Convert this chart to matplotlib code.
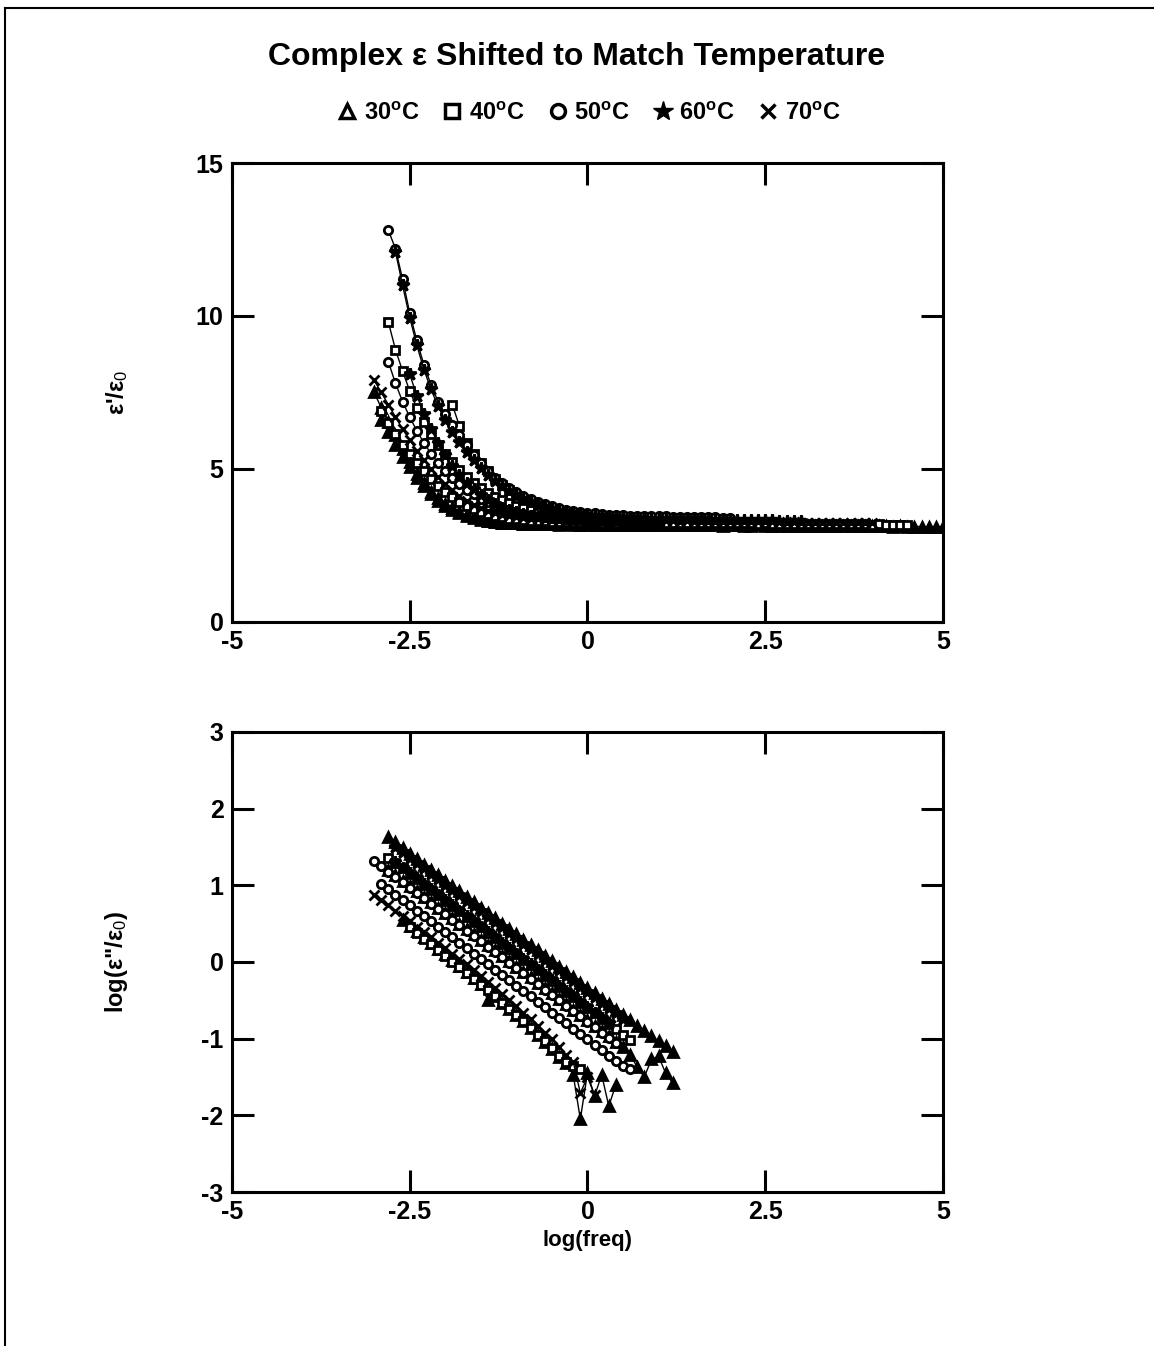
import matplotlib.pyplot as plt
from matplotlib.lines import Line2D

plt.rcParams['font.family'] = ['Liberation Sans', 'DejaVu Sans']
plt.rcParams['mathtext.fontset'] = 'custom'
plt.rcParams['mathtext.rm'] = 'Liberation Sans'
plt.rcParams['mathtext.it'] = 'Liberation Sans'
plt.rcParams['mathtext.bf'] = 'Liberation Sans:bold'
plt.rcParams['axes.unicode_minus'] = False

# shifted log(freq) grid, 0.1 decade steps
logf = [-3.0, -2.9, -2.8, -2.7, -2.6, -2.5, -2.4, -2.3, -2.2, -2.1,
        -2.0, -1.9, -1.8, -1.7, -1.6, -1.5, -1.4, -1.3, -1.2, -1.1,
        -1.0, -0.9, -0.8, -0.7, -0.6, -0.5, -0.4, -0.3, -0.2, -0.1,
        0.0, 0.1, 0.2, 0.3, 0.4, 0.5, 0.6, 0.7, 0.8, 0.9,
        1.0, 1.1, 1.2, 1.3, 1.4, 1.5, 1.6, 1.7, 1.8, 1.9,
        2.0, 2.1, 2.2, 2.3, 2.4, 2.5, 2.6, 2.7, 2.8, 2.9,
        3.0, 3.1, 3.2, 3.3, 3.4, 3.5, 3.6, 3.7, 3.8, 3.9,
        4.0, 4.1, 4.2, 4.3, 4.4, 4.5, 4.6, 4.7, 4.8, 4.9, 5.0]

temps = ['30', '40', '50', '60', '70']

# ---- eps'/eps0 : first log f and values of each run ----
e1_30a_x0 = -3.0
e1_30a = [7.5, 7.0, 6.55, 6.1, 5.65, 5.22, 4.85, 4.53, 4.26, 4.04,
          3.86, 3.72, 3.6, 3.5, 3.42, 3.36, 3.31, 3.28, 3.25, 3.23,
          3.22, 3.21, 3.2, 3.2,
          3.19, 3.19, 3.18, 3.19, 3.18, 3.18, 3.19, 3.18, 3.18, 3.17,
          3.18, 3.17, 3.17, 3.18, 3.17, 3.17, 3.16, 3.17, 3.17, 3.16,
          3.16, 3.17, 3.16, 3.16, 3.16, 3.15, 3.16, 3.16, 3.15, 3.15,
          3.16, 3.15, 3.15, 3.15, 3.14, 3.15, 3.15, 3.14, 3.14, 3.15,
          3.14, 3.14, 3.14, 3.13, 3.14, 3.14, 3.13, 3.13, 3.13, 3.12,
          3.13, 3.12, 3.12, 3.12, 3.11, 3.12, 3.11]
e1_30b_x0 = -2.9
e1_30b = [6.6, 6.2, 5.8, 5.4, 5.05, 4.72, 4.43, 4.18, 3.97, 3.8,
          3.66, 3.55, 3.46, 3.39, 3.34, 3.3, 3.27, 3.25, 3.23, 3.22,
          3.21, 3.21, 3.2, 3.2, 3.2, 3.19, 3.19, 3.19, 3.19, 3.18,
          3.18, 3.18, 3.18, 3.18, 3.17, 3.17, 3.17, 3.17, 3.17, 3.16]
e1_40a_x0 = -2.8
e1_40a = [9.8, 8.9, 8.2, 7.55, 7.0, 6.55, 6.15, 5.8, 5.5, 5.22,
          4.97, 4.74, 4.54, 4.37, 4.22, 4.09, 3.98, 3.88, 3.8, 3.73,
          3.67, 3.62, 3.57, 3.53, 3.5, 3.47, 3.45, 3.43, 3.41, 3.4,
          3.39, 3.38, 3.37, 3.36, 3.36, 3.35, 3.35, 3.34, 3.34, 3.33,
          3.33, 3.33, 3.32, 3.32]
e1_40b_x0 = -1.9
e1_40b = [7.1, 6.4, 5.85, 5.5, 5.2, 4.92, 4.68, 4.48, 4.3, 4.15,
          4.02, 3.91, 3.82, 3.74, 3.68, 3.62, 3.58, 3.54, 3.51, 3.48,
          3.46, 3.44, 3.43, 3.42, 3.41]
e1_40c_x0 = -2.9
e1_40c = [6.9, 6.5, 6.15, 5.8, 5.5, 5.2, 4.93, 4.68, 4.45, 4.25,
          4.08, 3.93, 3.8, 3.69, 3.6, 3.53, 3.47, 3.42, 3.38, 3.35,
          3.33, 3.31, 3.3, 3.29, 3.28, 3.28, 3.27, 3.27, 3.26, 3.26,
          3.26, 3.25, 3.26, 3.25, 3.25, 3.25, 3.24, 3.25, 3.24, 3.24,
          3.24, 3.24, 3.23, 3.24, 3.23, 3.23, 3.23, 3.22, 3.23, 3.22,
          3.22, 3.22, 3.22, 3.21, 3.22, 3.21, 3.21, 3.21, 3.2, 3.21,
          3.2, 3.2, 3.2, 3.2, 3.19, 3.2, 3.19, 3.19, 3.19, 3.18,
          3.19, 3.18, 3.18, 3.18, 3.17]
e1_50a_x0 = -2.8
e1_50a = [12.8, 12.2, 11.2, 10.1, 9.2, 8.4, 7.75, 7.2, 6.8, 6.45,
          6.1, 5.8, 5.45, 5.2, 4.95, 4.72, 4.53, 4.38, 4.24, 4.12,
          4.02, 3.93, 3.85, 3.78, 3.72, 3.67, 3.63, 3.6, 3.57, 3.55,
          3.53, 3.51, 3.5, 3.49, 3.48, 3.47, 3.46, 3.46, 3.45, 3.45,
          3.44, 3.44, 3.43, 3.43, 3.42, 3.42, 3.42, 3.41, 3.41]
e1_50b_x0 = -2.8
e1_50b = [8.5, 7.8, 7.2, 6.7, 6.25, 5.85, 5.5, 5.2, 4.93, 4.7,
          4.5, 4.32, 4.17, 4.03, 3.91, 3.81, 3.72, 3.65, 3.59, 3.54,
          3.5, 3.46, 3.43, 3.41, 3.39, 3.37, 3.36, 3.35, 3.34, 3.33,
          3.33, 3.32, 3.32, 3.31, 3.31, 3.31, 3.3, 3.3, 3.3]
e1_60a_x0 = -2.7
e1_60a = [12.1, 11.0, 9.95, 9.05, 8.25, 7.6, 7.05, 6.6, 6.2, 5.88,
          5.55, 5.28, 5.02, 4.8, 4.6, 4.43, 4.28, 4.15, 4.03, 3.93,
          3.84, 3.77, 3.7, 3.64, 3.59, 3.55, 3.52, 3.49, 3.47, 3.45,
          3.43, 3.42, 3.41, 3.4, 3.39, 3.38, 3.38, 3.37, 3.37, 3.36,
          3.36, 3.35, 3.35, 3.35, 3.34, 3.34, 3.34, 3.33, 3.33, 3.33,
          3.32, 3.32, 3.32, 3.32, 3.31, 3.31, 3.31, 3.3]
e1_60b_x0 = -2.5
e1_60b = [8.1, 7.4, 6.8, 6.3, 5.85, 5.45, 5.1, 4.8, 4.55, 4.33,
          4.14, 3.98, 3.85, 3.74, 3.65, 3.58, 3.52, 3.48, 3.44, 3.41,
          3.39, 3.37, 3.35, 3.34, 3.33, 3.32, 3.31, 3.31, 3.3, 3.3,
          3.29, 3.29, 3.29, 3.28, 3.28, 3.28]
e1_70a_x0 = -3.0
e1_70a = [7.9, 7.5, 7.1, 6.7, 6.3, 5.95, 5.6, 5.3, 5.0, 4.73,
          4.5, 4.3, 4.12, 3.96, 3.83, 3.72, 3.63, 3.56, 3.5, 3.46,
          3.42, 3.4, 3.38, 3.36, 3.35, 3.34, 3.33, 3.33, 3.32, 3.32,
          3.31, 3.31, 3.31, 3.3, 3.31, 3.3, 3.3, 3.3, 3.29, 3.3,
          3.29, 3.29, 3.29, 3.28, 3.29, 3.28, 3.28, 3.28, 3.27, 3.28,
          3.27, 3.27, 3.27, 3.26, 3.27, 3.26, 3.26, 3.26, 3.25, 3.26,
          3.25, 3.25, 3.25, 3.24, 3.25, 3.24, 3.24, 3.23, 3.24, 3.23, 3.23]

# ---- log(eps''/eps0) ----
e2_30a_x0 = -2.8
e2_30a = [1.63, 1.56, 1.49, 1.41, 1.34, 1.27, 1.2, 1.13, 1.06, 0.99,
          0.92, 0.85, 0.78, 0.71, 0.64, 0.57, 0.5, 0.43, 0.36, 0.29,
          0.22, 0.15, 0.08, 0.01, -0.06, -0.13, -0.2, -0.27, -0.34, -0.41,
          -0.48, -0.55, -0.62, -0.69, -0.76, -0.83, -0.9, -0.97, -1.03, -1.1,
          -1.17]
e2_30b_x0 = -2.8
e2_30b = [1.2, 1.13, 1.06, 0.99, 0.92, 0.85, 0.78, 0.71, 0.64, 0.57,
          0.5, 0.43, 0.36, 0.29, 0.22, 0.15, 0.08, 0.01, -0.06, -0.13,
          -0.2, -0.27, -0.34, -0.41, -0.48, -0.55, -0.62, -0.69, -0.76, -0.83,
          -0.9, -0.97, -1.04, -1.11, -1.21, -1.37, -1.5, -1.27, -1.23, -1.45,
          -1.58]
e2_30c_x0 = -2.6
e2_30c = [0.55, 0.47, 0.4, 0.32, 0.25, 0.17, 0.1, 0.02, -0.05, -0.13,
          -0.21, -0.29, -0.5, -0.45, -0.53, -0.61, -0.69, -0.77, -0.86, -0.95,
          -1.04, -1.14, -1.24, -1.32, -1.47, -2.05, -1.45, -1.75, -1.47, -1.88,
          -1.6]
e2_40a_x0 = -2.8
e2_40a = [1.36, 1.29, 1.22, 1.15, 1.08, 1.01, 0.94, 0.87, 0.8, 0.73,
          0.66, 0.59, 0.52, 0.45, 0.38, 0.31, 0.24, 0.17, 0.1, 0.03,
          -0.04, -0.11, -0.18, -0.25, -0.32, -0.39, -0.46, -0.53, -0.6, -0.67,
          -0.74, -0.81, -0.88, -0.95, -1.02]
e2_40b_x0 = -2.5
e2_40b = [0.45, 0.38, 0.3, 0.23, 0.15, 0.08, 0.0, -0.07, -0.15, -0.22,
          -0.3, -0.37, -0.45, -0.53, -0.61, -0.69, -0.77, -0.86, -0.95, -1.03,
          -1.12, -1.22, -1.3, -1.36, -1.4]
e2_50a_x0 = -3.0
e2_50a = [1.32, 1.25, 1.18, 1.11, 1.04, 0.97, 0.9, 0.83, 0.76, 0.69,
          0.62, 0.55, 0.48, 0.41, 0.34, 0.27, 0.2, 0.13, 0.06, -0.01,
          -0.08, -0.15, -0.22, -0.29, -0.36, -0.43, -0.5, -0.57, -0.64, -0.71,
          -0.78, -0.85, -0.92, -0.99, -1.06]
e2_50b_x0 = -2.9
e2_50b = [1.02, 0.95, 0.88, 0.81, 0.74, 0.67, 0.6, 0.53, 0.46, 0.39,
          0.32, 0.25, 0.18, 0.11, 0.04, -0.03, -0.1, -0.17, -0.24, -0.31,
          -0.38, -0.45, -0.52, -0.59, -0.66, -0.73, -0.8, -0.87, -0.94, -1.01,
          -1.08, -1.15, -1.22, -1.29, -1.35, -1.4]
e2_60a_x0 = -2.7
e2_60a = [1.5, 1.43, 1.36, 1.29, 1.22, 1.15, 1.08, 1.01, 0.94, 0.87,
          0.8, 0.73, 0.66, 0.59, 0.52, 0.45, 0.38, 0.31, 0.24, 0.17,
          0.1, 0.03, -0.04, -0.11, -0.18, -0.25, -0.32, -0.39, -0.46, -0.53,
          -0.6, -0.67, -0.74]
e2_60b_x0 = -2.7
e2_60b = [1.3, 1.23, 1.16, 1.09, 1.02, 0.95, 0.88, 0.81, 0.74, 0.67,
          0.6, 0.53, 0.46, 0.39, 0.32, 0.25, 0.18, 0.11, 0.04, -0.03,
          -0.1, -0.17, -0.24, -0.31, -0.38, -0.45, -0.52, -0.59, -0.66, -0.73,
          -0.8]
e2_70a_x0 = -3.0
e2_70a = [0.88, 0.81, 0.74, 0.67, 0.6, 0.53, 0.46, 0.39, 0.32, 0.25,
          0.18, 0.11, 0.04, -0.03, -0.1, -0.18, -0.26, -0.34, -0.42, -0.5,
          -0.58, -0.66, -0.74, -0.83, -0.92, -1.01, -1.11, -1.21, -1.3, -1.71,
          -1.5, -1.73]

top_curves = [('30', e1_30a_x0, e1_30a), ('30', e1_30b_x0, e1_30b),
              ('40', e1_40a_x0, e1_40a), ('40', e1_40b_x0, e1_40b),
              ('40', e1_40c_x0, e1_40c), ('50', e1_50a_x0, e1_50a),
              ('50', e1_50b_x0, e1_50b), ('60', e1_60a_x0, e1_60a),
              ('60', e1_60b_x0, e1_60b), ('70', e1_70a_x0, e1_70a)]
bot_curves = [('30', e2_30a_x0, e2_30a), ('30', e2_30b_x0, e2_30b),
              ('30', e2_30c_x0, e2_30c), ('40', e2_40a_x0, e2_40a),
              ('40', e2_40b_x0, e2_40b), ('50', e2_50a_x0, e2_50a),
              ('50', e2_50b_x0, e2_50b), ('60', e2_60a_x0, e2_60a),
              ('60', e2_60b_x0, e2_60b), ('70', e2_70a_x0, e2_70a)]

# marker per temperature
mk = {'30': dict(marker='^', mfc='black', ms=7),
      '40': dict(marker='s', mfc='white', ms=6),
      '50': dict(marker='o', mfc='white', ms=6),
      '60': dict(marker='*', mfc='black', ms=9),
      '70': dict(marker='x', ms=6.5)}


def draw(ax, curves):
    for t, x0, ys in curves:
        i0 = logf.index(x0)
        ax.plot(logf[i0:i0 + len(ys)], ys, color='black', lw=1.0,
                mec='black', mew=2.0, **mk[t])


def style(ax):
    for s in ax.spines.values():
        s.set_linewidth(2.2)
    ax.set_xlim(-5, 5)
    ax.set_xticks([-5, -2.5, 0, 2.5, 5])
    ax.set_xticklabels(['-5', '-2.5', '0', '2.5', '5'])
    ax.tick_params(direction='in', length=16, width=2.2, top=True, right=True,
                   labelsize=18, pad=6)
    for lab in ax.get_xticklabels() + ax.get_yticklabels():
        lab.set_fontweight('bold')


fig = plt.figure(figsize=(11.54, 13.46), dpi=100)

ax1 = fig.add_axes([0.2010, 0.5379, 0.6161, 0.3410])
draw(ax1, top_curves)
ax1.set_ylim(0, 15)
ax1.set_yticks([0, 5, 10, 15])
style(ax1)
ax1.set_ylabel("ε'/ε$_0$", fontsize=17, fontweight='bold')
ax1.yaxis.set_label_coords(-0.143, 0.5)

ax2 = fig.add_axes([0.2010, 0.1144, 0.6161, 0.3418])
draw(ax2, bot_curves)
ax2.set_ylim(-3, 3)
ax2.set_yticks([-3, -2, -1, 0, 1, 2, 3])
style(ax2)
ax2.set_ylabel('log(ε"/ε$_0$)', fontsize=17, fontweight='bold')
ax2.yaxis.set_label_coords(-0.143, 0.5)
ax2.set_xlabel('log(freq)', fontsize=16, fontweight='bold', labelpad=4)

fig.text(0.5, 1 - 57 / 1346, 'Complex ε Shifted to Match Temperature',
         ha='center', va='center', fontsize=23, fontweight='bold')

# legend
leg_mk = {'30': dict(marker='^', mfc='white', ms=10, mew=2.5),
          '40': dict(marker='s', mfc='white', ms=10, mew=2.5),
          '50': dict(marker='o', mfc='white', ms=10, mew=2.5),
          '60': dict(marker='*', mfc='black', ms=15, mew=1),
          '70': dict(marker='x', ms=10, mew=2.5)}
handles = [Line2D([], [], ls='none', color='black', mec='black', **leg_mk[t])
           for t in temps]
labels = [t + r'$^{\mathbf{o}}$C' for t in temps]
fig.legend(handles, labels, loc='center',
           bbox_to_anchor=(589 / 1154, 1 - 113 / 1346),
           ncol=5, frameon=False, handlelength=0.8, handletextpad=0.3,
           columnspacing=1.0, prop={'size': 17, 'weight': 'bold'})

# outer frame of the scanned page
fig.add_artist(Line2D([5 / 1154, 5 / 1154], [0, 1 - 8 / 1346], color='black',
                      lw=1.5, transform=fig.transFigure))
fig.add_artist(Line2D([5 / 1154, 1], [1 - 8 / 1346, 1 - 8 / 1346],
                      color='black', lw=1.5, transform=fig.transFigure))

fig.savefig('out.png', dpi=100)
